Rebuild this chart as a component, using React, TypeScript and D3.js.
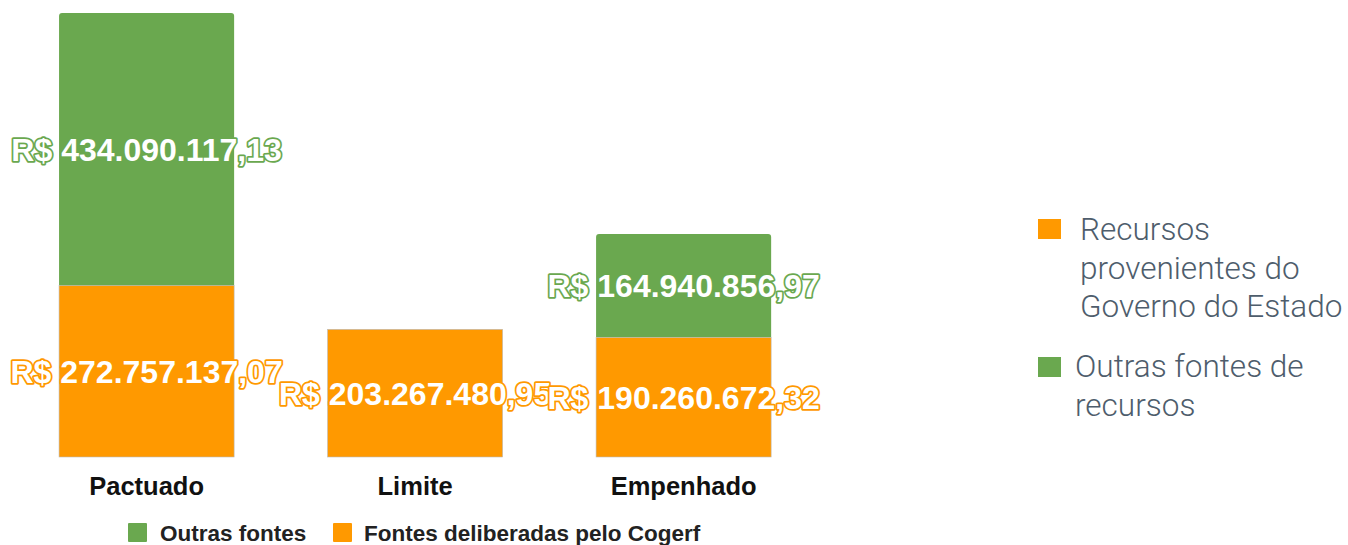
import React from "react";
import * as d3 from "d3";

const categories = ["Pactuado", "Limite", "Empenhado"];
const fontesCogerf = [272757137.07, 203267480.95, 190260672.32];
const outrasFontes = [434090117.13, 0, 164940856.97];
const bottomLegend = ["Outras fontes", "Fontes deliberadas pelo Cogerf"];
const sideLegend = [
  ["Recursos", "provenientes do", "Governo do Estado"],
  ["Outras fontes de", "recursos"],
];

const GREEN = "#6aa84f";
const ORANGE = "#ff9900";

const fmt = (v: number) => {
  const [i, d] = v.toFixed(2).split(".");
  return "R$ " + i.replace(/\B(?=(\d{3})+(?!\d))/g, ".") + "," + d;
};

export default function App() {
  const W = 1348, H = 545;
  const totals = categories.map((_, i) => fontesCogerf[i] + outrasFontes[i]);
  const x = d3.scaleBand().domain(categories).range([-21.5, 851.7]).paddingInner(0.348).paddingOuter(0.3);
  const y = d3.scaleLinear().domain([0, d3.max(totals)!]).range([457, 13]);
  const bw = x.bandwidth();

  const topPath = (x0: number, y0: number, w: number, h: number, r: number) =>
    `M${x0},${y0 + h}V${y0 + r}Q${x0},${y0} ${x0 + r},${y0}H${x0 + w - r}Q${x0 + w},${y0} ${x0 + w},${y0 + r}V${y0 + h}Z`;

  const labelStyle = (c: string): React.CSSProperties => ({
    fontFamily: "'Liberation Sans', Arial, sans-serif",
    fontWeight: 700,
    fontSize: 32,
    fill: "#fff",
    stroke: c,
    strokeWidth: 3.5,
    paintOrder: "stroke",
    strokeLinejoin: "round",
  });

  return (
    <svg width={W} height={H} style={{ position: "absolute", left: 0, top: 0, background: "#fff" }}>
      {categories.map((c, i) => {
        const x0 = x(c)!;
        const yo = y(fontesCogerf[i]);
        const yt = y(totals[i]);
        const hasG = outrasFontes[i] > 0;
        return (
          <g key={c}>
            {hasG && <path d={topPath(x0, yt, bw, yo - yt, 3)} fill={GREEN} />}
            <rect x={x0} y={yo} width={bw} height={y(0) - yo} fill={ORANGE} stroke="#bbb" strokeWidth={0.6} />
            {hasG && <rect x={x0} y={yo - 1} width={bw} height={2} fill={GREEN} opacity={0} />}
          </g>
        );
      })}
      {categories.map((c, i) => {
        const cx = x(c)! + bw / 2;
        const yo = y(fontesCogerf[i]);
        const yt = y(totals[i]);
        return (
          <g key={c + "l"}>
            <text x={cx} y={(yo + y(0)) / 2} dy="0.36em" textAnchor="middle" style={labelStyle(ORANGE)}>
              {fmt(fontesCogerf[i])}
            </text>
            {outrasFontes[i] > 0 && (
              <text x={cx} y={(yt + yo) / 2} dy="0.36em" textAnchor="middle" style={labelStyle(GREEN)}>
                {fmt(outrasFontes[i])}
              </text>
            )}
            <text x={cx} y={495} textAnchor="middle"
              style={{ fontFamily: "'Liberation Sans', Arial, sans-serif", fontWeight: 700, fontSize: 25.5, fill: "#111" }}>
              {c}
            </text>
          </g>
        );
      })}
      {/* bottom legend */}
      <g style={{ fontFamily: "'Liberation Sans', Arial, sans-serif", fontWeight: 700, fontSize: 22.5, fill: "#222" }}>
        <rect x={128} y={523} width={19} height={19} fill={GREEN} rx={1} />
        <text x={160} y={541}>{bottomLegend[0]}</text>
        <rect x={333} y={523} width={19} height={19} fill={ORANGE} rx={1} />
        <text x={364} y={541}>{bottomLegend[1]}</text>
      </g>
      {/* side legend */}
      <g style={{ fontFamily: "Roboto, sans-serif", fontWeight: 300, fontSize: 31.5, fill: "#4e5d6c" }}>
        <rect x={1038} y={219} width={23} height={20} fill={ORANGE} />
        {sideLegend[0].map((t, k) => (
          <text key={t} x={1080} y={240 + k * 38.5}>{t}</text>
        ))}
        <rect x={1038} y={357} width={23} height={20} fill={GREEN} />
        {sideLegend[1].map((t, k) => (
          <text key={t} x={1075} y={377 + k * 39}>{t}</text>
        ))}
      </g>
    </svg>
  );
}
